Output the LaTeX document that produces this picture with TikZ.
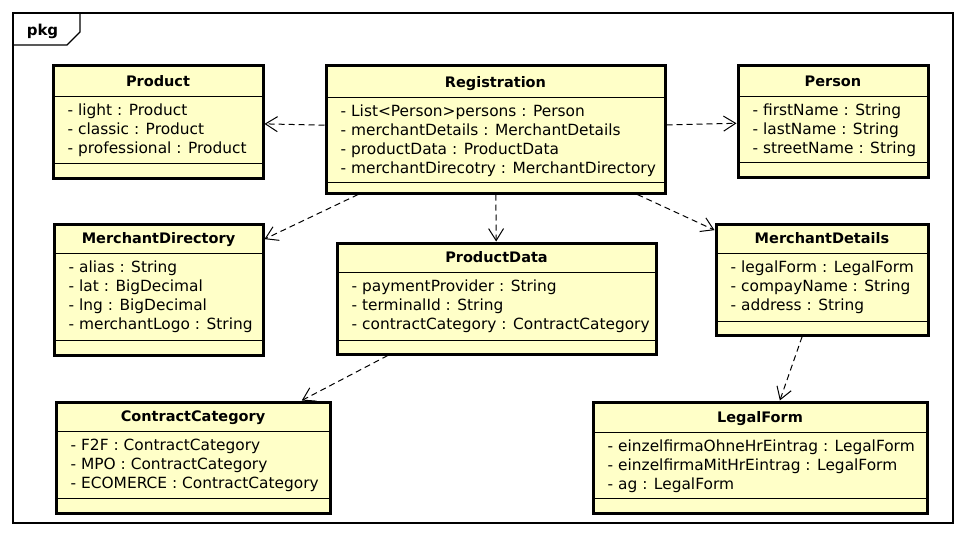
\documentclass[tikz,border=0pt]{standalone}
\usepackage{fontspec}
\setmainfont{DejaVu Sans}
\usetikzlibrary{arrows.meta}

\definecolor{classfill}{RGB}{255,255,200}

\tikzset{
  classbox/.style={draw, line width=3pt, fill=classfill, inner sep=0pt},
  classtitle/.style={font=\fontsize{14.5}{17}\selectfont\bfseries, anchor=base},
  attr/.style={font=\fontsize{15.4}{19}\selectfont, anchor=base west, inner sep=0pt},
  sepline/.style={line width=1pt},
  dep/.style={dash pattern=on 6pt off 4pt, line width=1pt, -{Straight Barb[length=12pt,width=15pt]}}
}

% name, left, top, right, bottom, separator, last line, title, attributes
\newcommand{\umlclass}[9]{%
  \node[classbox, minimum width={#4pt-#2pt}, minimum height={#5pt-#3pt}] (#1) at ({(#2+#4)/2},{(#3+#5)/2}) {};
  \draw[sepline] (#2,#6) -- (#4,#6);
  \draw[sepline] (#2,#7) -- (#4,#7);
  \node[classtitle] (#1-title) at ({(#2+#4)/2},{#6-9.5}) {#8};
  \foreach \txt [count=\k] in {#9}
    \node[attr] (#1-a\k) at ({#2+14.5},{#6+19*\k}) {\txt};
}

\begin{document}
\begin{tikzpicture}[x=1pt,y=-1pt]
\fill[white] (0,0) rectangle (966,538);
\useasboundingbox (0,0) rectangle (966,538);

% package frame
\draw[line width=1.2pt] (13,13) rectangle (953,523);
\draw[line width=1.2pt] (13,45) -- (67,45) -- (80,32) -- (80,13);
\node[font=\fontsize{15}{17}\selectfont\bfseries, anchor=base] (pkg) at (42.5,35) {pkg};

% classes
\umlclass{product}{53}{65}{263}{178}{96}{163}{Product}{- light : Product, - classic : Product, - professional : Product}
\umlclass{registration}{326}{65}{665}{193}{97}{182}{Registration}{- List<Person>persons : Person, - merchantDetails : MerchantDetails, - productData : ProductData, - merchantDirecotry : MerchantDirectory}
\umlclass{person}{738}{65}{928}{177}{96}{162}{Person}{- firstName : String, - lastName : String, - streetName : String}
\umlclass{merchantdirectory}{54}{224}{263}{355}{253}{340}{MerchantDirectory}{- alias : String, - lat : BigDecimal, - lng : BigDecimal, - merchantLogo : String}
\umlclass{productdata}{337}{243}{656}{354}{272}{340}{ProductData}{- paymentProvider : String, - terminalId : String, - contractCategory : ContractCategory}
\umlclass{merchantdetails}{716}{224}{928}{335}{253}{321}{MerchantDetails}{- legalForm : LegalForm, - compayName : String, - address : String}
\umlclass{legalform}{593}{402}{927}{513}{432}{498}{LegalForm}{- einzelfirmaOhneHrEintrag : LegalForm, - einzelfirmaMitHrEintrag : LegalForm, - ag : LegalForm}
\umlclass{contractcategory}{56}{402}{330}{513}{431}{498}{ContractCategory}{- F2F : ContractCategory, - MPO : ContractCategory, - ECOMERCE : ContractCategory}

% dependencies
\draw[dep] (registration) -- (product);
\draw[dep] (registration) -- (person);
\draw[dep] (registration) -- (merchantdirectory);
\draw[dep] (registration) -- (productdata);
\draw[dep] (registration) -- (merchantdetails);
\draw[dep] (productdata) -- (contractcategory);
\draw[dep] (merchantdetails) -- (legalform);
\end{tikzpicture}
\end{document}
